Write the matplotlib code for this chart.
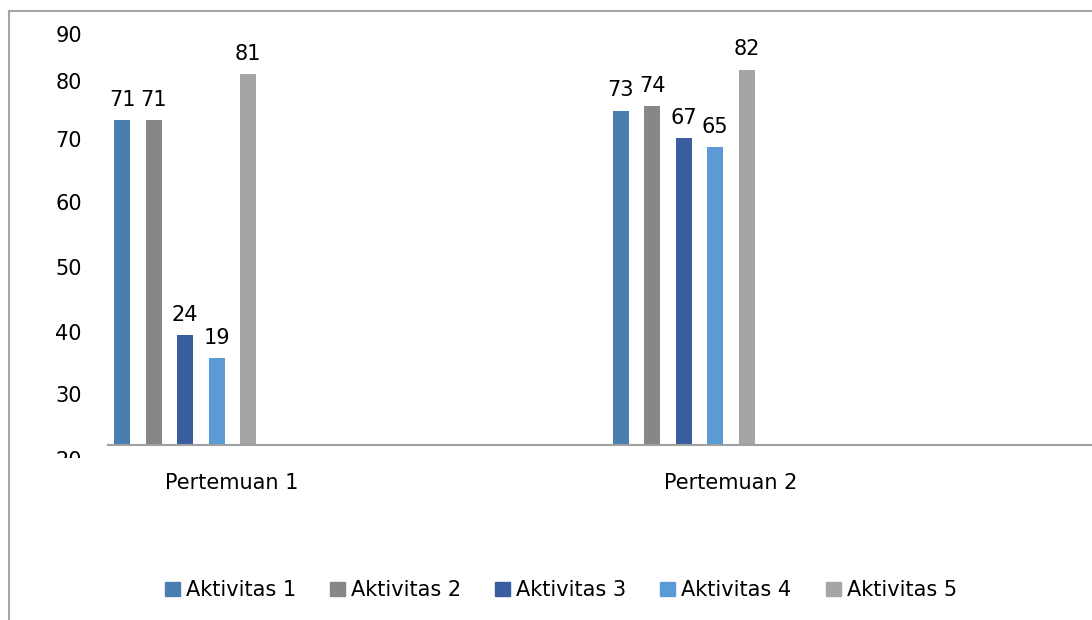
import matplotlib
matplotlib.use('Agg')
import matplotlib.pyplot as plt
import numpy as np
from matplotlib.patches import Patch, Rectangle
from matplotlib.lines import Line2D
from matplotlib.transforms import ScaledTranslation

plt.rcParams['font.family'] = ['DejaVu Sans']

# Data
pertemuan = ['Pertemuan 1', 'Pertemuan 2']
aktivitas = ['Aktivitas 1', 'Aktivitas 2', 'Aktivitas 3', 'Aktivitas 4', 'Aktivitas 5']
aktivitas_1 = [71, 73]
aktivitas_2 = [71, 74]
aktivitas_3 = [24, 67]
aktivitas_4 = [19, 65]
aktivitas_5 = [81, 82]
ytick_labels = ['90', '80', '70', '60', '50', '40', '30', '20']

series = [aktivitas_1, aktivitas_2, aktivitas_3, aktivitas_4, aktivitas_5]
colors = ['#4a7eb0', '#878787', '#3a5da0', '#5b9bd5', '#a5a5a5']
fs = 15

W, H = 1092, 620
fig = plt.figure(figsize=(W / 100, H / 100), dpi=100)
ax = fig.add_axes([108 / W, 1 - 445 / H, (W - 108) / W, (445 - 11) / H])

x = np.arange(len(pertemuan))
pitch = 0.0632
width = 0.0321
for i, (vals, c) in enumerate(zip(series, colors)):
    xs = x + (i - 2) * pitch
    ax.bar(xs, vals, width=width, color=c, label=aktivitas[i])
    for xi, v in zip(xs, vals):
        ax.annotate(str(v), (xi, v), xytext=(0, 7.5), textcoords='offset points',
                    ha='center', va='bottom', fontsize=fs)

ax.set_xlim(-0.1545, 1.819)
ax.set_ylim(0, 94.8)

# kategori (sedikit bergeser ke kanan seperti aslinya)
ax.set_xticks(x + 0.094, pertemuan, fontsize=fs)
ax.tick_params(axis='x', length=0, pad=20.5)
ax.set_yticks([])

# label sumbu y (posisinya tidak rata seperti di gambar)
ypos = [89.3, 79.0, 66.4, 52.6, 38.4, 24.3, 10.7, -3.4]
clip = Rectangle((0, 1 - 458 / H), 1, 458 / H, transform=fig.transFigure)
off = ScaledTranslation(-26 / 100, 0, fig.dpi_scale_trans)
for lab, yp in zip(ytick_labels, ypos):
    t = ax.text(0, yp, lab, transform=ax.get_yaxis_transform() + off,
                ha='right', va='center', fontsize=fs)
    t.set_clip_path(clip)
    t.set_clip_on(True)

for s in ['top', 'right', 'left']:
    ax.spines[s].set_visible(False)
ax.spines['bottom'].set_color('#a0a0a0')
ax.spines['bottom'].set_linewidth(1.5)

# bingkai chart
fig.add_artist(Line2D([9 / W, 9 / W], [0, 1 - 11 / H], transform=fig.transFigure,
                      color='#a6a6a6', lw=1.5))
fig.add_artist(Line2D([9 / W, 1], [1 - 11 / H, 1 - 11 / H], transform=fig.transFigure,
                      color='#a6a6a6', lw=1.5))

handles = [Patch(color=c) for c in colors]
fig.legend(handles, aktivitas, loc='center left', bbox_to_anchor=(165 / W, 1 - 590 / H),
           ncol=5, frameon=False, fontsize=fs, borderpad=0, borderaxespad=0,
           handlelength=0.72, handleheight=0.66, handletextpad=0.29, columnspacing=1.63)

fig.savefig('out.png', dpi=100)
